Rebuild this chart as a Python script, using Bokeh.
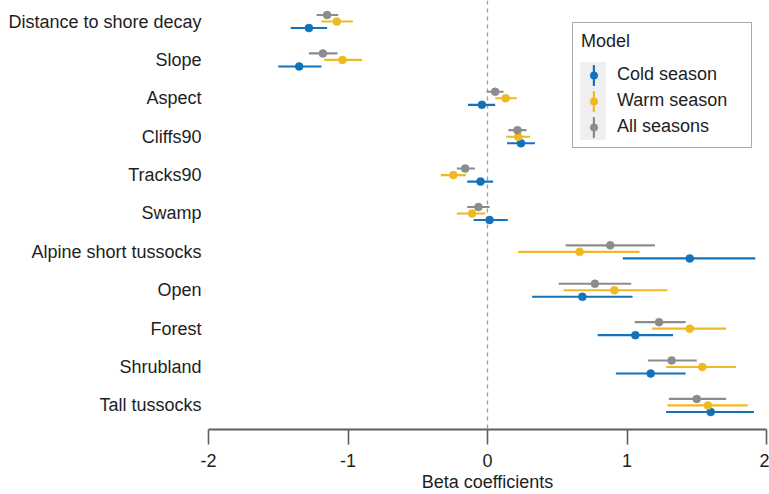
import numpy as np
from bokeh.plotting import figure
from bokeh.models import (ColumnDataSource, Range1d, FixedTicker, Span, Legend,
                          LegendItem)
from bokeh.embed import file_html
from bokeh.resources import INLINE

# ---------------- data ----------------
variables = ["Distance to shore decay", "Slope", "Aspect", "Cliffs90", "Tracks90",
             "Swamp", "Alpine short tussocks", "Open", "Forest", "Shrubland",
             "Tall tussocks"]

cold_est = [-1.28, -1.35, -0.04, 0.24, -0.05, 0.015, 1.45, 0.68, 1.06, 1.17, 1.60]
cold_lo = [-1.41, -1.50, -0.14, 0.14, -0.145, -0.10, 0.97, 0.32, 0.79, 0.92, 1.28]
cold_hi = [-1.15, -1.19, 0.055, 0.34, 0.04, 0.145, 1.92, 1.04, 1.33, 1.42, 1.91]

warm_est = [-1.08, -1.04, 0.13, 0.22, -0.245, -0.11, 0.66, 0.91, 1.45, 1.54, 1.58]
warm_lo = [-1.19, -1.17, 0.055, 0.135, -0.335, -0.22, 0.22, 0.545, 1.18, 1.28, 1.29]
warm_hi = [-0.965, -0.90, 0.21, 0.305, -0.155, -0.015, 1.09, 1.29, 1.71, 1.78, 1.865]

all_est = [-1.15, -1.18, 0.055, 0.215, -0.16, -0.065, 0.88, 0.77, 1.23, 1.32, 1.50]
all_lo = [-1.225, -1.28, -0.005, 0.15, -0.22, -0.145, 0.56, 0.51, 1.055, 1.15, 1.30]
all_hi = [-1.07, -1.075, 0.115, 0.28, -0.09, 0.015, 1.20, 1.03, 1.42, 1.50, 1.71]

model_names = ["Cold season", "Warm season", "All seasons"]
x_ticks = [-2, -1, 0, 1, 2]
x_tick_labels = ["-2", "-1", "0", "1", "2"]

# ---------------- style ----------------
FONT = "Liberation Sans"
TXT = "18px"
TEXT_COLOR = "#1e1e1e"
AXIS_COLOR = "#5f5f5f"
colors = {"Cold season": "#1272BA", "Warm season": "#F0B823", "All seasons": "#8C8C8C"}
offsets = {"Cold season": 0.17, "Warm season": 0.0, "All seasons": -0.17}

p = figure(width=769, height=494, output_backend="svg", toolbar_location=None,
           x_range=Range1d(-2, 2), y_range=Range1d(10.627, -0.548),
           min_border_left=208, min_border_right=3, min_border_top=0, min_border_bottom=0)
p.outline_line_color = None
p.grid.visible = False
p.background_fill_color = "white"
p.border_fill_color = "white"

p.add_layout(Span(location=0, dimension="height", line_color="#9c9c9c",
                  line_width=1.3, line_dash="4 4", level="underlay"))

series = [("Cold season", cold_est, cold_lo, cold_hi),
          ("Warm season", warm_est, warm_lo, warm_hi),
          ("All seasons", all_est, all_lo, all_hi)]

idx = np.arange(len(variables))
bar_r, dot_r = {}, {}
for name, est, lo, hi in series:
    src = ColumnDataSource(dict(y=idx + offsets[name], est=est, lo=lo, hi=hi, var=variables))
    c = colors[name]
    bar_r[name] = p.hbar(y="y", left="lo", right="hi", height=0.055, source=src,
                         fill_color=c, line_color=None)
    dot_r[name] = p.scatter(x="est", y="y", source=src, size=8, fill_color=c,
                            line_color=c, line_width=0.5)

# ---------------- axes ----------------
xa = p.xaxis[0]
xa.ticker = FixedTicker(ticks=x_ticks)
xa.major_label_overrides = {t: l for t, l in zip(x_ticks, x_tick_labels)}
xa.axis_line_color = AXIS_COLOR
xa.axis_line_width = 2
xa.major_tick_line_color = AXIS_COLOR
xa.major_tick_line_width = 1.6
xa.major_tick_out = 15
xa.major_tick_in = 0
xa.minor_tick_line_color = None
xa.major_label_text_font = FONT
xa.major_label_text_font_size = TXT
xa.major_label_text_color = TEXT_COLOR
xa.major_label_standoff = 9
xa.axis_label = "Beta coefficients"
xa.axis_label_text_font = FONT
xa.axis_label_text_font_size = TXT
xa.axis_label_text_font_style = "normal"
xa.axis_label_text_color = TEXT_COLOR
xa.axis_label_standoff = 2

ya = p.yaxis[0]
ya.ticker = FixedTicker(ticks=list(range(len(variables))))
ya.major_label_overrides = {i: v for i, v in enumerate(variables)}
ya.axis_line_color = None
ya.major_tick_line_color = None
ya.major_tick_out = 0
ya.major_tick_in = 0
ya.minor_tick_line_color = None
ya.minor_tick_out = 0
ya.major_label_text_font = FONT
ya.major_label_text_font_size = TXT
ya.major_label_text_color = TEXT_COLOR
ya.major_label_standoff = 7

# ---------------- legend ----------------
vx, vy = 364, 281
PAD = 8
GH = 26
common = dict(glyph_height=GH, spacing=0, padding=PAD,
              label_text_font=FONT, label_text_font_size=TXT,
              label_standoff=10, label_height=20, margin=0)

# frame, title and labels
leg_frame = Legend(items=[LegendItem(label=n, renderers=[dot_r[n]]) for n in model_names],
                   location=(vx, vy), glyph_width=26, label_width=126,
                   title="Model", title_text_font=FONT, title_text_font_size=TXT,
                   title_text_font_style="normal", title_standoff=9,
                   title_text_color=TEXT_COLOR,
                   border_line_color="#555555", border_line_width=1.5,
                   background_fill_color="white", background_fill_alpha=1,
                   label_text_color=TEXT_COLOR, **common)
p.add_layout(leg_frame, "center")

# light grey panel behind the keys
leg_bg = Legend(items=[LegendItem(label="", renderers=[]) for _ in model_names],
                location=(vx + PAD, vy + PAD), glyph_width=26, glyph_height=GH,
                spacing=0, padding=0, label_standoff=0, label_width=0, label_height=0,
                label_text_font_size=TXT, margin=0,
                border_line_alpha=0, background_fill_color="#efefef",
                background_fill_alpha=1)
p.add_layout(leg_bg, "center")

hidden = dict(border_line_alpha=0, background_fill_alpha=0, label_width=0)
# vertical range keys
leg_lines = Legend(items=[LegendItem(label="", renderers=[bar_r[n]]) for n in model_names],
                   location=(vx + 11.5, vy), glyph_width=3, **hidden, **common)
p.add_layout(leg_lines, "center")
# point keys
leg_dots = Legend(items=[LegendItem(label="", renderers=[dot_r[n]]) for n in model_names],
                  location=(vx + 3.5, vy), glyph_width=19, **hidden, **common)
p.add_layout(leg_dots, "center")

open("out.html", "w").write(file_html(p, INLINE))
